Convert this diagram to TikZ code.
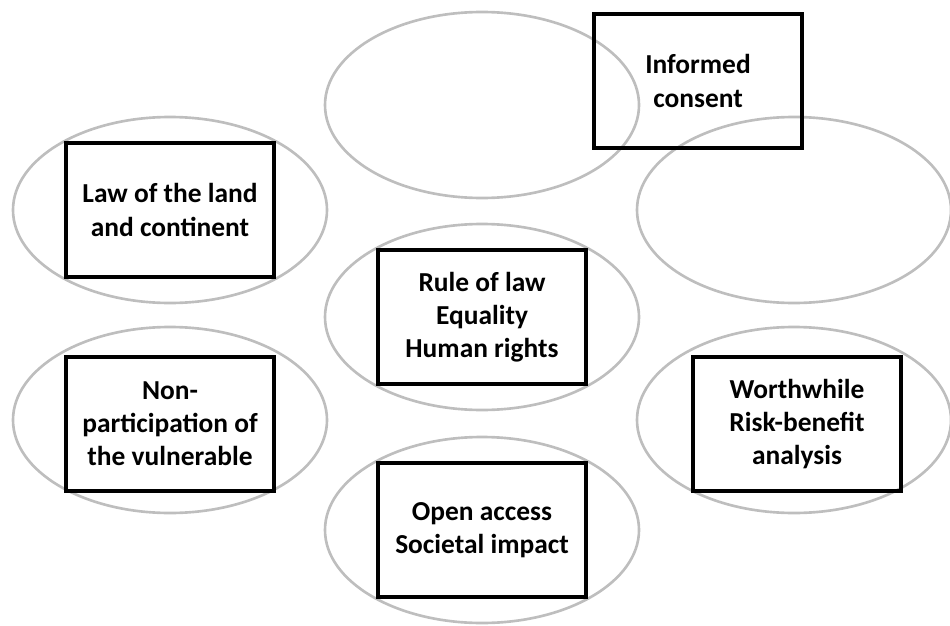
\documentclass[tikz,border=0pt]{standalone}
\usepackage{fontspec}
\setmainfont{Carlito}
\usepackage{tikz}
\usetikzlibrary{shapes,positioning}
\usepackage{xcolor}
\definecolor{ovalgray}{RGB}{190,190,190}
\tikzstyle{oval} = [ellipse, minimum width=6.28cm, minimum height=3.72cm, draw=ovalgray, line width=1.5pt]
\tikzstyle{textbox} = [rectangle, minimum width=4.16cm, minimum height=2.68cm, text centered, align=center, draw=black, line width=2pt, font=\fontsize{15.6}{18.8}\selectfont\bfseries]

\begin{document}
\begin{tikzpicture}
\useasboundingbox (0,0) rectangle (19,-12.5);
% Ovals
\node[oval] (ovtop) at (9.64,-2.10) {};
\node[oval] (ovtopright) at (15.88,-4.20) {};
\node[oval] (ovlaw) at (3.40,-4.20) {};
\node[oval] (ovcentre) at (9.64,-6.34) {};
\node[oval] (ovvulnerable) at (3.40,-8.40) {};
\node[oval] (ovrisk) at (15.88,-8.40) {};
\node[oval] (ovaccess) at (9.64,-10.60) {};

% Boxes
\node[textbox] (consent) at (13.96,-1.62) {Informed\\consent};
\node[textbox] (law) at (ovlaw) {Law of the land\\and continent};
\node[textbox] (rule) at (ovcentre) {Rule of law\\Equality\\Human rights};
\node[textbox, below=0pt of ovvulnerable.center, anchor=center, yshift=-0.08cm] (vulnerable) {Non-\\participation of\\the vulnerable};
\node[textbox, right=0.06cm of ovrisk.center, anchor=center, yshift=-0.08cm] (risk) {Worthwhile\\Risk-benefit\\analysis};
\node[textbox] (access) at (ovaccess) {Open access\\Societal impact};
\end{tikzpicture}
\end{document}
